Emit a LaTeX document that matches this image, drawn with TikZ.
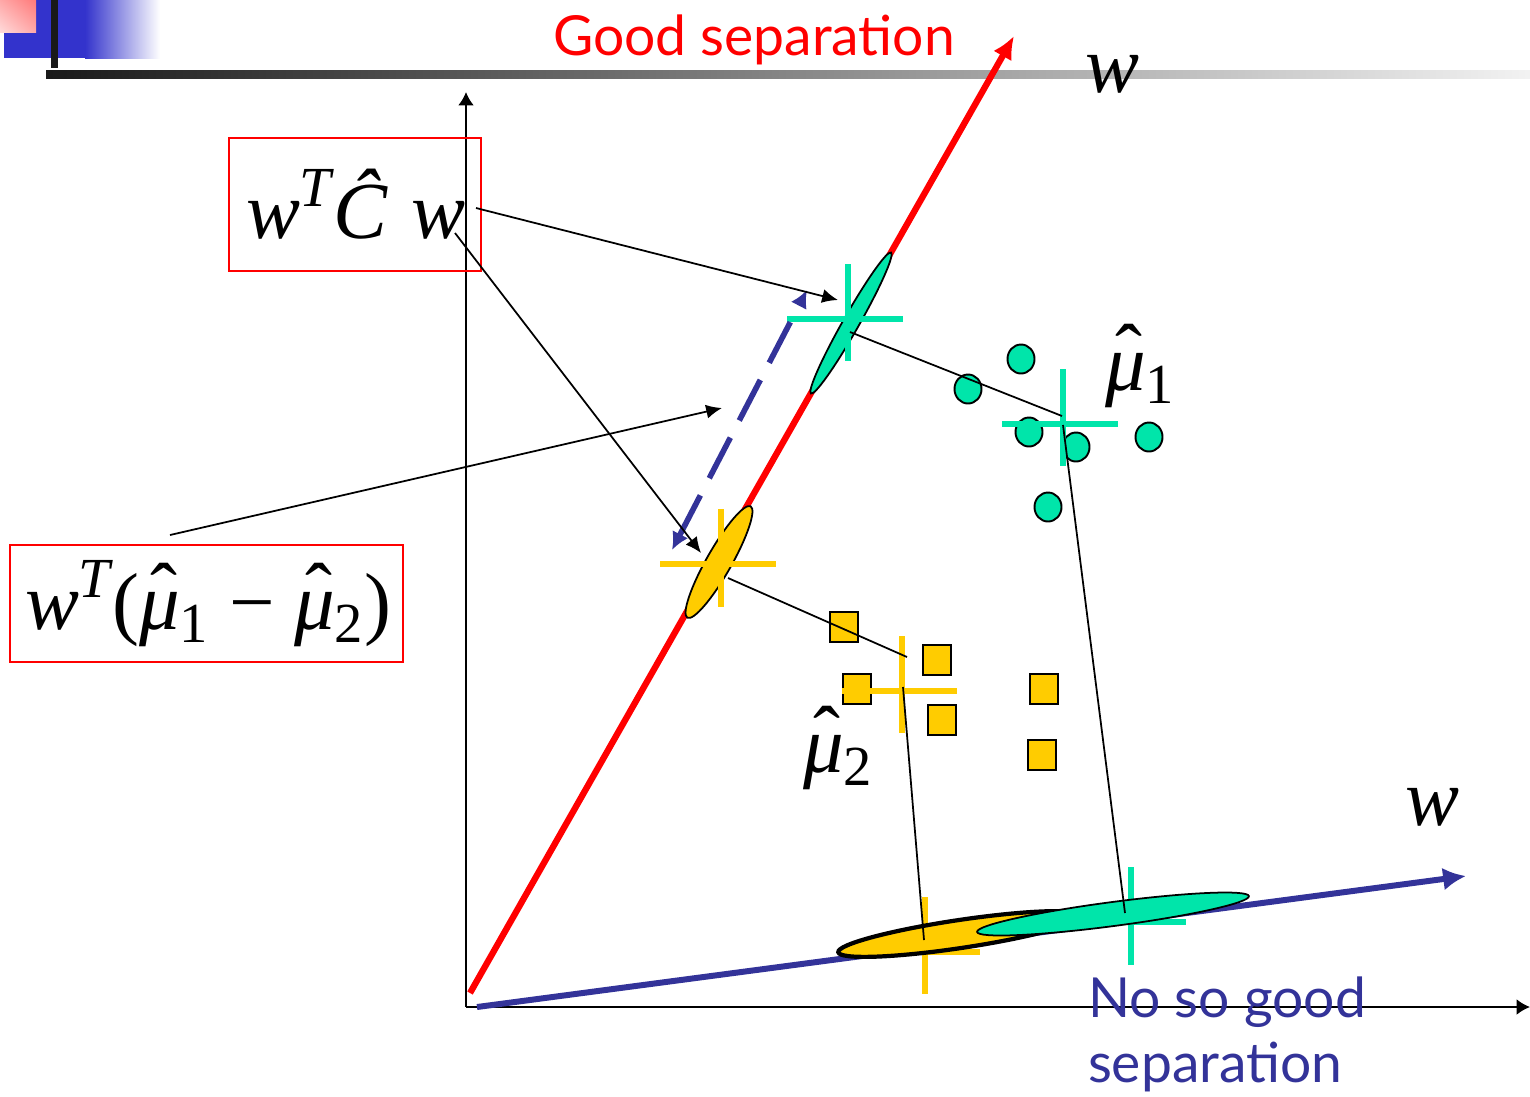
\documentclass[tikz,border=0pt]{standalone}
\usepackage{amsmath}
\usepackage{fontspec}
\setmainfont{Liberation Serif}
\newfontfamily\comicfont{Lato}
\usetikzlibrary{arrows.meta,shadings}
\definecolor{tealg}{HTML}{00E5AA}
\definecolor{yel}{HTML}{FFCC00}
\definecolor{navy}{HTML}{333399}
\definecolor{hdrblue}{HTML}{3333CC}
\definecolor{pinkd}{HTML}{FF7A7A}
\definecolor{pinkm}{HTML}{FFA8A8}
\definecolor{pinkl}{HTML}{FFDADA}
\newcommand\mylabfont{\fontsize{23pt}{27pt}\selectfont}
\newcommand\muhat{\mbox{\ooalign{\textit{μ}\cr\hidewidth\kern0.1em\raisebox{0.12em}{\textrm{ˆ}}\hidewidth\cr}}}
\newcommand\mysub[1]{_{\textrm{#1}}}
\tikzset{
  crossg/.style={draw=tealg, line width=1.7pt},
  crossy/.style={draw=yel, line width=1.7pt},
  gpt/.style={draw=black, line width=0.55pt, fill=tealg},
  ysq/.style={draw=black, line width=0.55pt, fill=yel},
  proj/.style={draw=black, line width=0.5pt},
  arr/.style={proj, -{Latex[length=4.5pt,width=4pt]}},
  axis/.style={draw=black, line width=0.6pt, -{Latex[length=3.8pt,width=4.5pt]}},
  labbox/.style={draw=red, line width=0.6pt, inner sep=0pt, outer sep=0pt},
  lab/.style={inner sep=0pt, outer sep=0pt, font=\mylabfont},
  comictxt/.style={inner sep=0pt, outer sep=0pt, font=\comicfont\fontsize{15.7pt}{19pt}\selectfont},
}
\begin{document}
\begin{tikzpicture}[x=0.01cm,y=-0.01cm]
\useasboundingbox (0,0) rectangle (1530,1096);
% header decoration
\fill[hdrblue] (4,0) rectangle (86,58);
\shade[left color=hdrblue, right color=white] (85,0) rectangle (160,58);
\shade[upper right=pinkd, upper left=pinkm, lower right=pinkm, lower left=pinkl] (0,0) rectangle (36,32);
\fill[black!90] (51,0) rectangle (58,68);
\shade[left color=black!90, right color=black!5] (46,70) rectangle (1530,78);
% axes
\coordinate (O) at (466,1007);
\coordinate (ytop) at (466,92);
\coordinate (xend) at (1530,1007);
\draw[axis] (O) -- (ytop);
\draw[axis] (O) -- (xend);
% blue direction
\coordinate (b0) at (477,1007);
\coordinate (b1e) at (1466,876);
\draw[navy, line width=1.7pt, -{Latex[length=6.5pt,width=6.5pt]}] (b0) -- (b1e);
% bottom crosses
\draw[crossy] (925,897) -- (925,994) (870,952) -- (980,952);
\draw[crossg] (1131,867) -- (1131,965) (1075,922) -- (1186,922);
% bottom ellipses
\draw[black, line width=1.2pt, fill=yel, rotate around={8.5:(960,934)}] (960,934) ellipse [x radius=1.23cm, y radius=0.14cm];
\draw[black, line width=0.5pt, fill=tealg, rotate around={7.5:(1113,914)}] (1113,914) ellipse [x radius=1.37cm, y radius=0.12cm];
% red direction
\coordinate (r0) at (470,993);
\coordinate (r1) at (1014,36);
\draw[red, line width=1.8pt, -{Latex[length=6.5pt,width=6pt]}] (r0) -- (r1);
% ellipses on red line
\draw[black, line width=0.5pt, fill=tealg, rotate around={60.4:(851,323)}] (851,323) ellipse [x radius=0.81cm, y radius=0.08cm];
\draw[black, line width=0.5pt, fill=yel, rotate around={60.4:(719,562)}] (719,562) ellipse [x radius=0.64cm, y radius=0.125cm];
\draw[crossg] (848,264) -- (848,361) (787,319) -- (903,319);
\draw[crossy] (721,509) -- (721,607) (660,564) -- (776,564);
% class 1 points
\foreach \p in {(1021,359),(968,389),(1029,432),(1076,447),(1149,437),(1048,507)}
  \draw[gpt] \p ellipse [x radius=0.135cm, y radius=0.145cm];
% class 2 points
\foreach \cx/\cy in {844/627,937/660,857/689,942/720,1044/689,1042/755}
  \draw[ysq] (\cx-14,\cy-15) rectangle (\cx+14,\cy+15);
% mean crosses
\draw[crossg] (1063,369) -- (1063,466) (1002,424) -- (1118,424);
\draw[crossy] (902,636) -- (902,733) (842,691) -- (957,691);
% projection lines
\coordinate (pg1) at (850,332); \coordinate (pg2) at (1062,416);
\coordinate (pg3) at (1063,425); \coordinate (pg4) at (1125,913);
\coordinate (py1) at (728,578); \coordinate (py2) at (907,657);
\coordinate (py3) at (903,687); \coordinate (py4) at (924,940);
\draw[proj] (pg1) -- (pg2);
\draw[proj] (pg3) -- (pg4);
\draw[proj] (py1) -- (py2);
\draw[proj] (py3) -- (py4);
% dashed difference arrow
\coordinate (d1) at (672,550); \coordinate (d2) at (807,290);
\draw[navy, line width=1.6pt, dash pattern=on 13pt off 5.5pt, {Latex[length=5pt,width=5pt]}-{Latex[length=5pt,width=5pt]}] (d1) -- (d2);
% label boxes
\node[labbox, anchor=north west, minimum width=2.52cm, minimum height=1.33cm] (box1) at (229,138) {};
\node[lab, anchor=base west] (t1) at (246,238) {$\textit{w}^{\textit{T}}\textit{Ĉ}\;\textit{w}$};
\node[labbox, anchor=north west, minimum width=3.93cm, minimum height=1.17cm] (box2) at (10,545) {};
\node[lab, anchor=base west] (t2) at (25,629) {$\textit{w}^{\textit{T}}\textrm{(}\muhat\mysub{1}\mathbin{\textrm{−}}\muhat\mysub{2}\textrm{)}$};
% arrows from labels
\coordinate (a1s) at (476,208); \coordinate (a1e) at (838,300);
\coordinate (a2s) at (455,233); \coordinate (a2e) at (701,553);
\coordinate (a3s) at (170,535); \coordinate (a3e) at (722,408);
\draw[arr] (a1s) -- (a1e);
\draw[arr] (a2s) -- (a2e);
\draw[arr] (a3s) -- (a3e);
% other labels
\node[lab, anchor=base west] (mu1) at (1105,390) {$\muhat\mysub{1}$};
\node[lab, anchor=base west] (mu2) at (803,772) {$\muhat\mysub{2}$};
\node[lab, anchor=base west] (wtop) at (1085,92) {\textit{w}};
\node[lab, anchor=base west] (wbot) at (1405,825) {\textit{w}};
\node[comictxt, text=red, anchor=base west] (good) at (553,55) {Good separation};
\node[comictxt, text=navy, anchor=base west] (nsg1) at (1088,1017) {No so good};
\node[comictxt, text=navy, anchor=base west] (nsg2) at (1088,1082) {separation};
\end{tikzpicture}
\end{document}
